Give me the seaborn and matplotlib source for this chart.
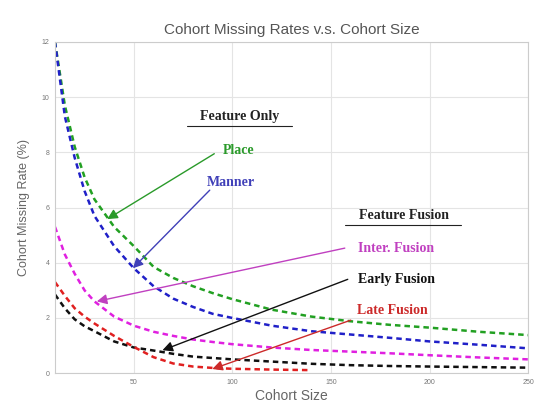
import numpy as np
import pandas as pd
import matplotlib
matplotlib.use("Agg")
import matplotlib.pyplot as plt
import seaborn as sns

x_main = [10, 15, 20, 25, 30, 40, 50, 60, 70, 80, 90, 100, 120, 140, 160, 180, 200, 225, 250]
place = [12.0, 9.7, 8.2, 7.1, 6.3, 5.3, 4.6, 3.85, 3.45, 3.15, 2.9, 2.68, 2.3, 2.05, 1.88, 1.75, 1.65, 1.5, 1.38]
manner = [12.0, 9.3, 7.8, 6.6, 5.7, 4.6, 3.8, 3.15, 2.7, 2.4, 2.15, 2.0, 1.72, 1.52, 1.4, 1.28, 1.15, 1.03, 0.9]
inter = [5.3, 4.3, 3.6, 3.0, 2.6, 2.05, 1.72, 1.5, 1.35, 1.22, 1.13, 1.05, 0.93, 0.84, 0.78, 0.72, 0.65, 0.57, 0.5]
early = [2.85, 2.35, 1.95, 1.7, 1.52, 1.15, 0.93, 0.82, 0.7, 0.6, 0.55, 0.5, 0.42, 0.34, 0.29, 0.26, 0.24, 0.22, 0.2]
x_late = [10, 15, 20, 25, 30, 40, 50, 60, 70, 80, 90, 100, 120, 140]
late = [3.3, 2.8, 2.35, 2.05, 1.8, 1.35, 0.95, 0.58, 0.35, 0.24, 0.19, 0.16, 0.13, 0.11]

series_names = ["Place", "Manner", "Inter. Fusion", "Early Fusion", "Late Fusion"]
series_colors = ["#22a022", "#2020c8", "#e020e0", "#101010", "#e02020"]
label_colors = ["#2a9a2a", "#4040b8", "#c040c0", "#111111", "#cc2a2a"]

frames = []
for name, xs, ys in [("Place", x_main, place), ("Manner", x_main, manner),
                     ("Inter. Fusion", x_main, inter), ("Early Fusion", x_main, early),
                     ("Late Fusion", x_late, late)]:
    frames.append(pd.DataFrame({"size": xs, "rate": ys, "series": name}))
df = pd.concat(frames, ignore_index=True)

sns.set_theme(style="whitegrid")
plt.rcParams['font.family'] = ['Liberation Sans', 'DejaVu Sans']

fig = plt.figure(figsize=(5.34, 4.03), dpi=100)
ax = fig.add_axes([0.103, 0.074, 0.886, 0.822])

sns.lineplot(data=df, x="size", y="rate", hue="series", hue_order=series_names,
             palette=dict(zip(series_names, series_colors)), ax=ax,
             legend=False, linewidth=1.8, sort=False)
for line in ax.get_lines():
    line.set_dashes((2.2, 1.6))

ax.set_xlim(10, 250)
ax.set_ylim(0, 12)
ax.set_xticks([50, 100, 150, 200, 250])
ax.set_yticks([0, 2, 4, 6, 8, 10, 12])
ax.tick_params(labelsize=5, colors="#777777", length=2, pad=2)
ax.grid(True, color="#e4e4e4", linewidth=0.8)
for s in ax.spines.values():
    s.set_color("#cccccc")
    s.set_linewidth(0.8)

ax.set_title("Cohort Missing Rates v.s. Cohort Size", fontsize=11, color="#555555", pad=6)
ax.set_xlabel("Cohort Size", fontsize=10, color="#666666", labelpad=2)
ax.set_ylabel("Cohort Missing Rate (%)", fontsize=9, color="#666666", labelpad=8)

serif = ['Liberation Serif', 'DejaVu Serif']
ax.text(103.4, 9.28, "Feature Only", fontsize=10, fontweight="bold", family=serif,
        color="#222222", ha="center", va="center")
ax.plot([77, 130], [8.95, 8.95], color="#222222", lw=0.8)
ax.text(186.8, 5.72, "Feature Fusion", fontsize=10, fontweight="bold", family=serif,
        color="#222222", ha="center", va="center")
ax.plot([157, 216], [5.38, 5.38], color="#222222", lw=0.8)

ann = [
    ("Place", 102.9, 8.08, 90.8, 7.95, 36.5, 5.58, label_colors[0]),
    ("Manner", 99.4, 6.92, 88.5, 6.63, 49.5, 3.8, label_colors[1]),
    ("Inter. Fusion", 183.0, 4.53, 157.0, 4.53, 31.2, 2.6, label_colors[2]),
    ("Early Fusion", 183.0, 3.4, 158.5, 3.4, 64.5, 0.83, label_colors[3]),
    ("Late Fusion", 181.0, 2.28, 160.0, 1.92, 89.8, 0.15, label_colors[4]),
]
for text, tx, ty, sx, sy, ex, ey, col in ann:
    ax.text(tx, ty, text, fontsize=10, fontweight="bold", family=serif, color=col,
            ha="center", va="center")
    ax.annotate("", xy=(ex, ey), xytext=(sx, sy),
                arrowprops=dict(arrowstyle="-|>,head_length=0.5,head_width=0.25",
                                color=col, lw=1.0, shrinkA=0, shrinkB=0))

fig.savefig("out.png", dpi=100)
